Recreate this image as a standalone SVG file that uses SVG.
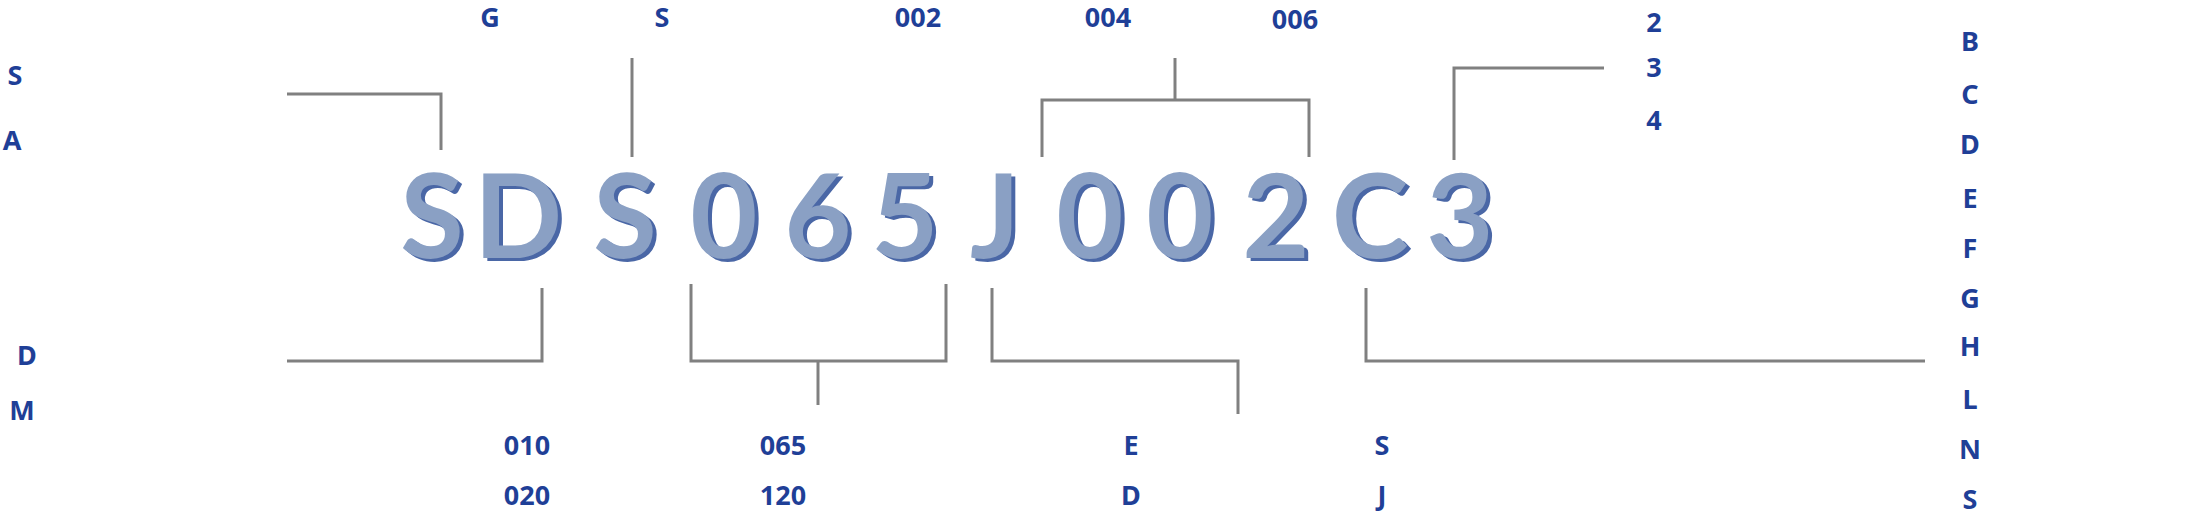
<svg xmlns="http://www.w3.org/2000/svg" width="2208" height="514" viewBox="0 0 2208 514">
<style>
.l{fill:#1f3f97;font-family:"Noto Sans",sans-serif;font-weight:bold;font-size:27px;text-anchor:middle}
.big{font-family:Lato,"Noto Sans",sans-serif;font-weight:bold;font-size:116px;text-anchor:middle}
.sh{fill:#4a67a6}.fg{fill:#8aa0c4}
.c{stroke:#808080;stroke-width:3;fill:none}
</style>
<rect width="2208" height="514" fill="#fff"/>
<g id="code">
<g class="big sh" transform="translate(4,3)">
<text x="432" y="258">S</text><text x="518" y="258">D</text><text x="625" y="258">S</text><text x="724" y="258">0</text><text x="818" y="258">6</text><text x="905" y="258">5</text><text x="995" y="258">J</text><text x="1090" y="258">0</text><text x="1180" y="258">0</text><text x="1276" y="258">2</text><text x="1370" y="258">C</text><text x="1460" y="258">3</text>
</g>
<g class="big fg">
<text x="432" y="258">S</text><text x="518" y="258">D</text><text x="625" y="258">S</text><text x="724" y="258">0</text><text x="818" y="258">6</text><text x="905" y="258">5</text><text x="995" y="258">J</text><text x="1090" y="258">0</text><text x="1180" y="258">0</text><text x="1276" y="258">2</text><text x="1370" y="258">C</text><text x="1460" y="258">3</text>
</g>
</g>
<g id="connectors" class="c">
<polyline points="287,94 441,94 441,150"/>
<line x1="632" y1="58" x2="632" y2="157"/>
<line x1="1175" y1="58" x2="1175" y2="100"/>
<polyline points="1042,157 1042,100 1309,100 1309,157"/>
<polyline points="1454,160 1454,68 1604,68"/>
<polyline points="287,361 542,361 542,288"/>
<polyline points="691,284 691,361 946,361 946,284"/>
<line x1="818" y1="361" x2="818" y2="405"/>
<polyline points="992,288 992,361 1238,361 1238,414"/>
<polyline points="1366,288 1366,361 1925,361"/>
</g>
<g id="labels" class="l">
<text x="490" y="27">G</text><text x="662" y="27">S</text><text x="918" y="27">002</text><text x="1108" y="27">004</text><text x="1295" y="29">006</text>
<text x="1654" y="32">2</text><text x="1654" y="77">3</text><text x="1654" y="130">4</text>
<text x="1970" y="51">B</text><text x="1970" y="104">C</text><text x="1970" y="154">D</text><text x="1970" y="208">E</text><text x="1970" y="258">F</text><text x="1970" y="308">G</text><text x="1970" y="356">H</text><text x="1970" y="409">L</text><text x="1970" y="459">N</text><text x="1970" y="509">S</text>
<text x="15" y="85">S</text><text x="12" y="150">A</text><text x="27" y="365">D</text><text x="22" y="420">M</text>
<text x="527" y="455">010</text><text x="527" y="505">020</text><text x="783" y="455">065</text><text x="783" y="505">120</text>
<text x="1131" y="455">E</text><text x="1131" y="505">D</text><text x="1382" y="455">S</text><text x="1382" y="505">J</text>
</g>
</svg>
